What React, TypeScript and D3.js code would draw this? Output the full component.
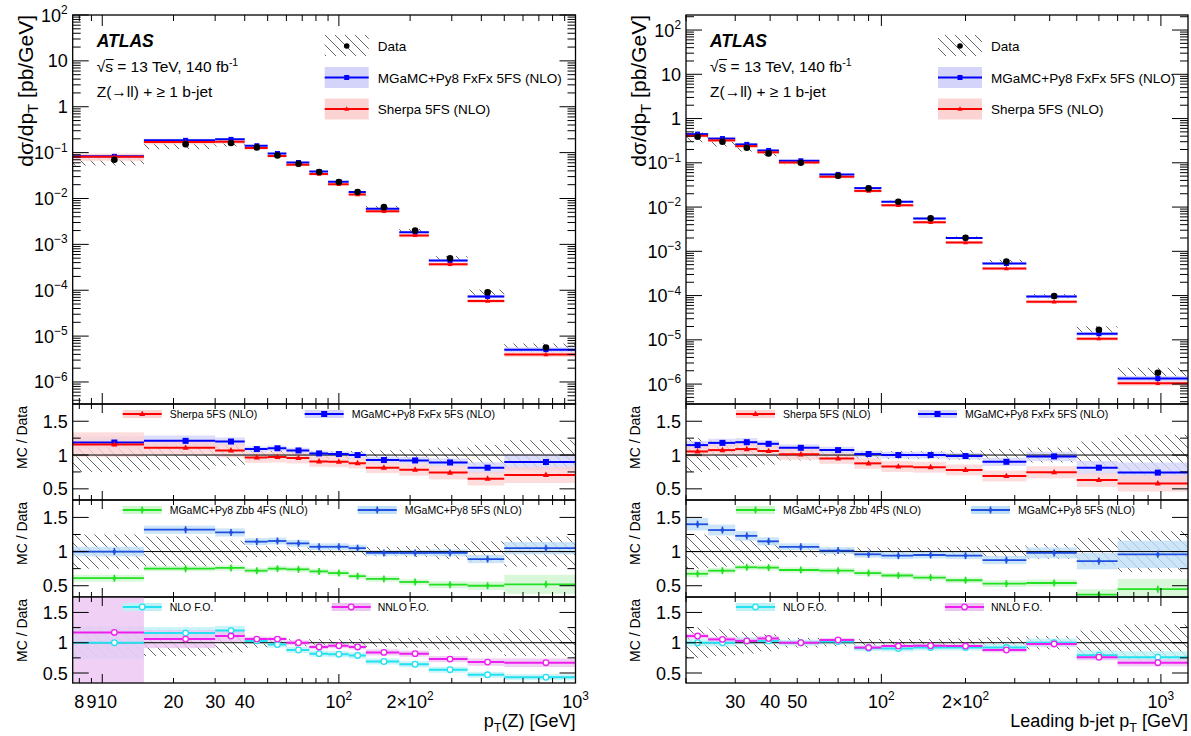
import React from 'react';
import * as d3 from 'd3';

// ---------------- data: left, p_T(Z) ----------------
const zEdges = [7.5, 15, 30, 40, 50, 60, 75, 90, 110, 130, 180, 240, 350, 500, 1000];
const zData = [0.070, 0.153, 0.162, 0.130, 0.087, 0.057, 0.0377, 0.0228, 0.0138, 0.00647, 0.0020, 4.98e-4, 9.0e-5, 5.65e-6];
const zDataErr = [0.25, 0.22, 0.16, 0.08, 0.07, 0.06, 0.06, 0.06, 0.06, 0.07, 0.08, 0.11, 0.15, 0.22];
const zFxFx = [1.185, 1.21, 1.20, 1.088, 1.10, 1.068, 1.024, 1.015, 1.00, 0.926, 0.92, 0.89, 0.813, 0.897];
const zFxFxErr = [0.09, 0.08, 0.06, 0.04, 0.04, 0.04, 0.04, 0.04, 0.04, 0.05, 0.05, 0.06, 0.08, 0.12];
const zSherpa = [1.156, 1.107, 1.068, 0.965, 0.97, 0.956, 0.906, 0.90, 0.88, 0.813, 0.784, 0.74, 0.65, 0.706];
const zSherpaErr = [0.18, 0.11, 0.10, 0.08, 0.08, 0.08, 0.08, 0.08, 0.08, 0.08, 0.09, 0.10, 0.10, 0.12];
const zPy5 = [1.0, 1.32, 1.28, 1.145, 1.155, 1.12, 1.07, 1.07, 1.05, 0.98, 0.98, 0.98, 0.89, 1.05];
const zPy5Err = [0.07, 0.06, 0.06, 0.05, 0.05, 0.05, 0.05, 0.05, 0.05, 0.04, 0.04, 0.05, 0.06, 0.09];
const zZbb = [0.61, 0.75, 0.76, 0.72, 0.75, 0.74, 0.71, 0.685, 0.64, 0.60, 0.555, 0.515, 0.50, 0.52];
const zZbbErr = [0.05, 0.04, 0.04, 0.04, 0.04, 0.04, 0.04, 0.04, 0.04, 0.04, 0.04, 0.05, 0.06, 0.14];
const zNlo = [1.0, 1.16, 1.20, 1.03, 0.97, 0.88, 0.82, 0.81, 0.79, 0.69, 0.645, 0.555, 0.47, 0.43];
const zNloErr = [0.27, 0.10, 0.08, 0.05, 0.05, 0.05, 0.05, 0.05, 0.05, 0.05, 0.05, 0.05, 0.05, 0.05];
const zNnlo = [1.17, 1.06, 1.11, 1.06, 1.06, 1.0, 0.93, 0.95, 0.93, 0.84, 0.82, 0.73, 0.68, 0.67];
const zNnloErr = [0.9, 0.15, 0.10, 0.04, 0.04, 0.04, 0.04, 0.04, 0.04, 0.05, 0.05, 0.05, 0.06, 0.07];
const zXLabels: [number, string][] = [[8, '8'], [9, '9'], [10, '10'], [20, '20'], [30, '30'], [40, '40'], [100, '10^2'], [200, '2×10^2'], [1000, '10^3']];

// ---------------- data: right, leading b-jet p_T ----------------
const bEdges = [20, 24, 30, 36, 43, 60, 80, 100, 130, 170, 230, 330, 500, 700, 1250];
const bData = [0.388, 0.299, 0.219, 0.163, 0.1005, 0.051, 0.0264, 0.0132, 0.00554, 0.00203, 5.9e-4, 9.75e-5, 1.69e-5, 1.8e-6];
const bDataErr = [0.25, 0.22, 0.18, 0.14, 0.08, 0.06, 0.06, 0.06, 0.06, 0.07, 0.09, 0.11, 0.20, 0.30];
const bFxFx = [1.147, 1.18, 1.19, 1.166, 1.107, 1.073, 1.015, 1.0, 1.0, 0.985, 0.90, 0.98, 0.813, 0.74];
const bFxFxErr = [0.06, 0.06, 0.06, 0.05, 0.05, 0.05, 0.05, 0.05, 0.05, 0.05, 0.06, 0.07, 0.10, 0.15];
const bSherpa = [1.053, 1.073, 1.088, 1.06, 1.01, 0.95, 0.877, 0.83, 0.82, 0.78, 0.69, 0.745, 0.63, 0.58];
const bSherpaErr = [0.08, 0.08, 0.08, 0.08, 0.08, 0.08, 0.08, 0.08, 0.08, 0.08, 0.08, 0.09, 0.10, 0.12];
const bPy5 = [1.40, 1.315, 1.23, 1.15, 1.07, 1.015, 0.96, 0.94, 0.95, 0.94, 0.875, 0.98, 0.86, 0.96];
const bPy5Err = [0.09, 0.08, 0.07, 0.06, 0.05, 0.05, 0.05, 0.05, 0.05, 0.05, 0.06, 0.08, 0.12, 0.20];
const bZbb = [0.675, 0.72, 0.77, 0.765, 0.73, 0.72, 0.685, 0.65, 0.62, 0.58, 0.53, 0.54, 0.37, 0.45];
const bZbbErr = [0.05, 0.04, 0.04, 0.04, 0.04, 0.04, 0.04, 0.04, 0.04, 0.04, 0.05, 0.05, 0.08, 0.15];
const bNlo = [1.0, 1.0, 1.03, 1.03, 1.0, 1.02, 0.91, 0.905, 0.92, 0.92, 0.92, 1.0, 0.795, 0.76];
const bNloErr = [0.06, 0.06, 0.06, 0.05, 0.05, 0.05, 0.05, 0.05, 0.05, 0.05, 0.06, 0.07, 0.08, 0.10];
const bNnlo = [1.11, 1.055, 1.03, 1.07, 1.0, 1.045, 0.92, 0.945, 0.95, 0.945, 0.88, 0.98, 0.76, 0.67];
const bNnloErr = [0.04, 0.04, 0.04, 0.04, 0.03, 0.03, 0.03, 0.03, 0.03, 0.03, 0.04, 0.04, 0.05, 0.06];
const bXLabels: [number, string][] = [[30, '30'], [40, '40'], [50, '50'], [100, '10^2'], [200, '2×10^2'], [1000, '10^3']];

// ---------------- shared labels ----------------
const yMainLabels: [number, string][] = [[1e-6, '10^−6'], [1e-5, '10^−5'], [1e-4, '10^−4'], [1e-3, '10^−3'], [1e-2, '10^−2'], [1e-1, '10^−1'], [1, '1'], [10, '10'], [100, '10^2']];
const ratioLabels: [number, string][] = [[0.5, '0.5'], [1, '1'], [1.5, '1.5']];
const ratioMinor = [0.75, 1.25];
const legendPanel1 = ['Sherpa 5FS (NLO)', 'MGaMC+Py8 FxFx 5FS (NLO)'];
const legendPanel2 = ['MGaMC+Py8 Zbb 4FS (NLO)', 'MGaMC+Py8 5FS (NLO)'];
const legendPanel3 = ['NLO F.O.', 'NNLO F.O.'];
const legendMain = ['Data', 'MGaMC+Py8 FxFx 5FS (NLO)', 'Sherpa 5FS (NLO)'];

// ---------------- layout / style ----------------
const FONT = "'Liberation Sans', Arial, Helvetica, sans-serif";
const MAIN_TOP = 15;
const MAIN_BOT = 404;
const PANELS = [
  { top: 404, bot: 500 },
  { top: 500, bot: 597 },
  { top: 597, bot: 683 },
];
const RATIO_DOM = [0.335, 1.755];
const XLAB_SIZE = 18;

const STY = {
  blue: { line: '#0000ff', band: '#d4d4fb', marker: 'square' },
  red: { line: '#ff0000', band: '#fbd3d3', marker: 'triangle' },
  blue2: { line: '#1f4fe0', band: '#bfdff6', marker: 'bar' },
  green: { line: '#22e022', band: '#d0f6d0', marker: 'bar' },
  cyan: { line: '#22e2f0', band: '#bdf1f6', marker: 'ocircle' },
  magenta: { line: '#ee1eee', band: '#ecc4f2', marker: 'ocircle' },
};

function logTicks(dom: number[]) {
  const out: { v: number; major: boolean }[] = [];
  const lo = Math.floor(Math.log10(dom[0]));
  const hi = Math.ceil(Math.log10(dom[1]));
  for (let e = lo; e <= hi; e++) {
    for (let k = 1; k <= 9; k++) {
      const v = k * Math.pow(10, e);
      if (v >= dom[0] * 0.9999 && v <= dom[1] * 1.0001) out.push({ v, major: k === 1 });
    }
  }
  return out;
}

function Lbl({ x, y, s, anchor, size }: { x: number; y: number; s: string; anchor: string; size: number }) {
  const [b, e] = s.split('^');
  return (
    <text x={x} y={y} textAnchor={anchor} fontSize={size} fontFamily={FONT} fill="#000">
      {b}
      {e !== undefined && (
        <tspan dy={-size * 0.42} fontSize={size * 0.66}>
          {e}
        </tspan>
      )}
    </text>
  );
}

function Mark({ kind, cx, cy, color, s = 6 }: { kind: string; cx: number; cy: number; color: string; s?: number }) {
  if (kind === 'square') return <rect x={cx - s / 2} y={cy - s / 2} width={s} height={s} fill={color} />;
  if (kind === 'triangle') {
    const h = s * 0.9;
    return <path d={`M${cx},${cy - h * 0.62} L${cx + s / 2},${cy + h * 0.38} L${cx - s / 2},${cy + h * 0.38}Z`} fill={color} />;
  }
  if (kind === 'bar')
    return (
      <g>
        <line x1={cx} x2={cx} y1={cy - 3.5} y2={cy + 3.5} stroke={color} strokeWidth={1.6} />
        <rect x={cx - 1.5} y={cy - 1.5} width={3} height={3} fill={color} />
      </g>
    );
  if (kind === 'ocircle') return <circle cx={cx} cy={cy} r={2.8} fill="white" stroke={color} strokeWidth={1.3} />;
  return null;
}

// spread x tick labels so that crowded ones (8, 9, 10) do not overlap
function spreadLabels(items: [number, string][], x: (v: number) => number) {
  const out: { v: number; s: string; px: number }[] = [];
  let prevRight = -1e9;
  for (const [v, s] of items) {
    const w = s.replace('^', '').length * 0.556 * XLAB_SIZE * (s.includes('^') ? 0.85 : 1);
    let px = x(v);
    if (px - w / 2 < prevRight + 0.5) px = prevRight + 0.5 + w / 2;
    out.push({ v, s, px });
    prevRight = px + w / 2;
  }
  return out;
}

type Ser = { vals: number[]; err: number[]; line: string; band: string; marker: string; lw: number };

function Side(p: any) {
  const { id, x0, x1 } = p;
  const x = d3.scaleLog().domain(p.xDom).range([x0, x1]);
  const y = d3.scaleLog().domain(p.yDom).range([MAIN_BOT, MAIN_TOP]);
  const bins = (p.edges as number[]).slice(0, -1).map((lo: number, i: number) => ({ lo, hi: p.edges[i + 1], c: (lo + p.edges[i + 1]) / 2, i }));
  const xt = logTicks(p.xDom);
  const yt = logTicks(p.yDom);
  const data: number[] = p.data;
  const dErr: number[] = p.dataErr;

  const mainSer: Ser[] = [
    { vals: p.fxfx, err: p.fxfxErr, ...STY.blue, lw: 2 },
    { vals: p.sherpa, err: p.sherpaErr, ...STY.red, lw: 2 },
  ];
  const ratioSer: Ser[][] = [
    [
      { vals: p.fxfx, err: p.fxfxErr, ...STY.blue, lw: 2 },
      { vals: p.sherpa, err: p.sherpaErr, ...STY.red, lw: 2 },
    ],
    [
      { vals: p.py5, err: p.py5Err, ...STY.blue2, lw: 1.8 },
      { vals: p.zbb, err: p.zbbErr, ...STY.green, lw: 1.8 },
    ],
    [
      { vals: p.nlo, err: p.nloErr, ...STY.cyan, lw: 2 },
      { vals: p.nnlo, err: p.nnloErr, ...STY.magenta, lw: 2 },
    ],
  ];
  const ratioLeg: [Ser, string, Ser, string, number, number][] = [
    [ratioSer[0][1], legendPanel1[0], ratioSer[0][0], legendPanel1[1], 232, 279],
    [ratioSer[1][1], legendPanel2[0], ratioSer[1][0], legendPanel2[1], 285, 332],
    [ratioSer[2][0], legendPanel3[0], ratioSer[2][1], legendPanel3[1], 259, 305],
  ];
  const xl = spreadLabels(p.xLabels, x);

  const clipMain = `${id}-main`;
  return (
    <g>
      <defs>
        <clipPath id={clipMain}>
          <rect x={x0} y={MAIN_TOP} width={x1 - x0} height={MAIN_BOT - MAIN_TOP} />
        </clipPath>
        {PANELS.map((pn, k) => (
          <clipPath id={`${id}-r${k}`} key={k}>
            <rect x={x0} y={pn.top} width={x1 - x0} height={pn.bot - pn.top} />
          </clipPath>
        ))}
      </defs>

      {/* ---------- main plot ---------- */}
      <g clipPath={`url(#${clipMain})`}>
        {bins.map((b) => {
          const hi = y(data[b.i] * (1 + dErr[b.i]));
          const lo = y(data[b.i] * (1 - dErr[b.i]));
          return <rect key={'h' + b.i} x={x(b.lo)} width={x(b.hi) - x(b.lo)} y={hi} height={lo - hi} fill="url(#hatch)" />;
        })}
        {mainSer.map((s, si) =>
          bins.map((b) => {
            const v = data[b.i] * s.vals[b.i];
            const t = y(v * (1 + s.err[b.i]));
            const bt = y(v * (1 - s.err[b.i]));
            return <rect key={`mb${si}-${b.i}`} x={x(b.lo)} width={x(b.hi) - x(b.lo)} y={t} height={bt - t} fill={s.band} opacity={0.85} />;
          })
        )}
        {mainSer.map((s, si) =>
          bins.map((b) => {
            const v = data[b.i] * s.vals[b.i];
            return (
              <g key={`ml${si}-${b.i}`}>
                <line x1={x(b.lo)} x2={x(b.hi)} y1={y(v)} y2={y(v)} stroke={s.line} strokeWidth={s.lw} />
                <Mark kind={s.marker} cx={x(b.c)} cy={y(v)} color={s.line} s={5} />
              </g>
            );
          })
        )}
        {bins.map((b) => (
          <circle key={'d' + b.i} cx={x(b.c)} cy={y(data[b.i])} r={3.3} fill="#000" />
        ))}
      </g>
      {/* main frame + ticks */}
      <rect x={x0} y={MAIN_TOP} width={x1 - x0} height={MAIN_BOT - MAIN_TOP} fill="none" stroke="#000" strokeWidth={1.3} />
      {xt.map((t, k) => {
        const px = x(t.v);
        const len = t.major ? 11 : 6;
        return (
          <g key={'mxt' + k}>
            <line x1={px} x2={px} y1={MAIN_BOT} y2={MAIN_BOT - len} stroke="#000" />
            <line x1={px} x2={px} y1={MAIN_TOP} y2={MAIN_TOP + len} stroke="#000" />
          </g>
        );
      })}
      {yt.map((t, k) => {
        const py = y(t.v);
        const len = t.major ? 16 : 8;
        return (
          <g key={'myt' + k}>
            <line x1={x0} x2={x0 + len} y1={py} y2={py} stroke="#000" />
            <line x1={x1} x2={x1 - len} y1={py} y2={py} stroke="#000" />
          </g>
        );
      })}
      {yMainLabels.map(([v, s]) => (
        <Lbl key={'myl' + v} x={x0 - 5} y={y(v) + 6.5} s={s} anchor="end" size={18} />
      ))}
      <text transform={`translate(${x0 - 40},${MAIN_TOP}) rotate(-90)`} textAnchor="end" fontSize={21} fontFamily={FONT}>
        dσ/dp<tspan dy={5} fontSize={15}>T</tspan>
        <tspan dy={-5}> [pb/GeV]</tspan>
      </text>

      {/* ATLAS label */}
      <text x={x0 + 24} y={47} fontSize={17.5} fontWeight="bold" fontStyle="italic" fontFamily={FONT}>
        ATLAS
      </text>
      <text x={x0 + 24} y={72} fontSize={15.5} fontFamily={FONT}>
        √s = 13 TeV, 140 fb<tspan dy={-6} fontSize={10.5}>-1</tspan>
      </text>
      <line x1={x0 + 33} x2={x0 + 41} y1={59.5} y2={59.5} stroke="#000" strokeWidth={1} />
      <text x={x0 + 24} y={97} fontSize={15.5} fontFamily={FONT}>
        Z(→ll) + ≥ 1 b-jet
      </text>

      {/* main legend */}
      <g>
        <rect x={x0 + 252} y={35} width={44} height={21} fill="url(#hatch)" />
        <circle cx={x0 + 274} cy={46} r={2.8} fill="#000" />
        <text x={x0 + 305} y={51} fontSize={13.5} fontFamily={FONT}>
          {legendMain[0]}
        </text>
        {[mainSer[0], mainSer[1]].map((s, k) => {
          const cy = 77.5 + k * 31.5;
          return (
            <g key={'mleg' + k}>
              <rect x={x0 + 252} y={cy - 10.5} width={44} height={21} fill={s.band} />
              <line x1={x0 + 252} x2={x0 + 296} y1={cy} y2={cy} stroke={s.line} strokeWidth={2} />
              <Mark kind={s.marker} cx={x0 + 274} cy={cy} color={s.line} s={5} />
              <text x={x0 + 305} y={cy + 5} fontSize={13.5} fontFamily={FONT}>
                {legendMain[k + 1]}
              </text>
            </g>
          );
        })}
      </g>

      {/* ---------- ratio panels ---------- */}
      {PANELS.map((pn, k) => {
        const yr = d3.scaleLinear().domain(RATIO_DOM).range([pn.bot, pn.top]);
        const sers = ratioSer[k];
        const leg = ratioLeg[k];
        const ly = pn.top + 10;
        return (
          <g key={'panel' + k}>
            <g clipPath={`url(#${id}-r${k})`}>
              {bins.map((b) => {
                const t = yr(1 + dErr[b.i]);
                const bt = yr(1 - dErr[b.i]);
                return <rect key={'rh' + b.i} x={x(b.lo)} width={x(b.hi) - x(b.lo)} y={t} height={bt - t} fill="url(#hatch)" />;
              })}
              {sers.map((s, si) =>
                bins.map((b) => {
                  const v = s.vals[b.i];
                  const t = yr(v + s.err[b.i]);
                  const bt = yr(v - s.err[b.i]);
                  return <rect key={`rb${si}-${b.i}`} x={x(b.lo)} width={x(b.hi) - x(b.lo)} y={t} height={bt - t} fill={s.band} opacity={0.8} />;
                })
              )}
              <line x1={x0} x2={x1} y1={yr(1)} y2={yr(1)} stroke="#000" strokeWidth={1} />
              {sers.map((s, si) =>
                bins.map((b) => {
                  const v = s.vals[b.i];
                  return (
                    <g key={`rl${si}-${b.i}`}>
                      <line x1={x(b.lo)} x2={x(b.hi)} y1={yr(v)} y2={yr(v)} stroke={s.line} strokeWidth={s.lw} />
                      <Mark kind={s.marker} cx={x(b.c)} cy={yr(v)} color={s.line} s={k === 0 ? 6 : 5} />
                    </g>
                  );
                })
              )}
            </g>
            <rect x={x0} y={pn.top} width={x1 - x0} height={pn.bot - pn.top} fill="none" stroke="#000" strokeWidth={1.3} />
            {xt.map((t, j) => {
              const px = x(t.v);
              const len = t.major ? 9 : 5;
              return (
                <g key={'rxt' + j}>
                  <line x1={px} x2={px} y1={pn.bot} y2={pn.bot - len} stroke="#000" />
                  <line x1={px} x2={px} y1={pn.top} y2={pn.top + len} stroke="#000" />
                </g>
              );
            })}
            {ratioLabels.map(([v]) => (
              <g key={'rmj' + v}>
                <line x1={x0} x2={x0 + 16} y1={yr(v)} y2={yr(v)} stroke="#000" />
                <line x1={x1} x2={x1 - 16} y1={yr(v)} y2={yr(v)} stroke="#000" />
              </g>
            ))}
            {ratioMinor.map((v) => (
              <g key={'rmn' + v}>
                <line x1={x0} x2={x0 + 8} y1={yr(v)} y2={yr(v)} stroke="#000" />
                <line x1={x1} x2={x1 - 8} y1={yr(v)} y2={yr(v)} stroke="#000" />
              </g>
            ))}
            {ratioLabels.map(([v, s]) => (
              <Lbl key={'rl' + v} x={x0 - 5} y={yr(v) + 6.5} s={s} anchor="end" size={18} />
            ))}
            <text transform={`translate(${x0 - 46},${pn.top + 2}) rotate(-90)`} textAnchor="end" fontSize={14} fontFamily={FONT}>
              MC / Data
            </text>
            {[
              [leg[0], leg[1], 50, 97],
              [leg[2], leg[3], leg[4], leg[5]],
            ].map(([s, txt, bx, tx]: any, j) => (
              <g key={'rleg' + j}>
                <rect x={x0 + bx} y={ly - 4} width={39} height={8} fill={s.band} />
                <line x1={x0 + bx} x2={x0 + bx + 39} y1={ly} y2={ly} stroke={s.line} strokeWidth={2} />
                <Mark kind={s.marker} cx={x0 + bx + 19.5} cy={ly} color={s.line} s={6} />
                <text x={x0 + tx} y={ly + 4} fontSize={10.5} fontFamily={FONT}>
                  {txt}
                </text>
              </g>
            ))}
          </g>
        );
      })}

      {/* x labels + title */}
      {xl.map((l) => (
        <Lbl key={'xl' + l.v} x={l.px} y={708} s={l.s} anchor="middle" size={XLAB_SIZE} />
      ))}
      <text x={x1} y={727} textAnchor="end" fontSize={18} fontFamily={FONT}>
        {p.xTitle[0]}
        <tspan dy={5} fontSize={12.5}>T</tspan>
        <tspan dy={-5}>{p.xTitle[1]}</tspan>
      </text>
    </g>
  );
}

export default function App() {
  return (
    <svg width={1191} height={736} style={{ position: 'absolute', left: 0, top: 0, background: '#fff' }} fontFamily={FONT}>
      <defs>
        <pattern id="hatch" patternUnits="userSpaceOnUse" width={10} height={10}>
          <path d="M0,0 L10,10 M-2,8 L2,12 M8,-2 L12,2" stroke="#555" strokeWidth={0.9} />
        </pattern>
      </defs>
      <rect width={1191} height={736} fill="#fff" />
      <Side
        id="L"
        x0={72.7}
        x1={575.5}
        xDom={[7.5, 1000]}
        yDom={[Math.pow(10, -6.48), 100]}
        edges={zEdges}
        data={zData}
        dataErr={zDataErr}
        fxfx={zFxFx}
        fxfxErr={zFxFxErr}
        sherpa={zSherpa}
        sherpaErr={zSherpaErr}
        py5={zPy5}
        py5Err={zPy5Err}
        zbb={zZbb}
        zbbErr={zZbbErr}
        nlo={zNlo}
        nloErr={zNloErr}
        nnlo={zNnlo}
        nnloErr={zNnloErr}
        xLabels={zXLabels}
        xTitle={['p', '(Z) [GeV]']}
      />
      <Side
        id="R"
        x0={686}
        x1={1188}
        xDom={[20, 1250]}
        yDom={[Math.pow(10, -6.45), Math.pow(10, 2.34)]}
        edges={bEdges}
        data={bData}
        dataErr={bDataErr}
        fxfx={bFxFx}
        fxfxErr={bFxFxErr}
        sherpa={bSherpa}
        sherpaErr={bSherpaErr}
        py5={bPy5}
        py5Err={bPy5Err}
        zbb={bZbb}
        zbbErr={bZbbErr}
        nlo={bNlo}
        nloErr={bNloErr}
        nnlo={bNnlo}
        nnloErr={bNnloErr}
        xLabels={bXLabels}
        xTitle={['Leading b-jet p', ' [GeV]']}
      />
    </svg>
  );
}
